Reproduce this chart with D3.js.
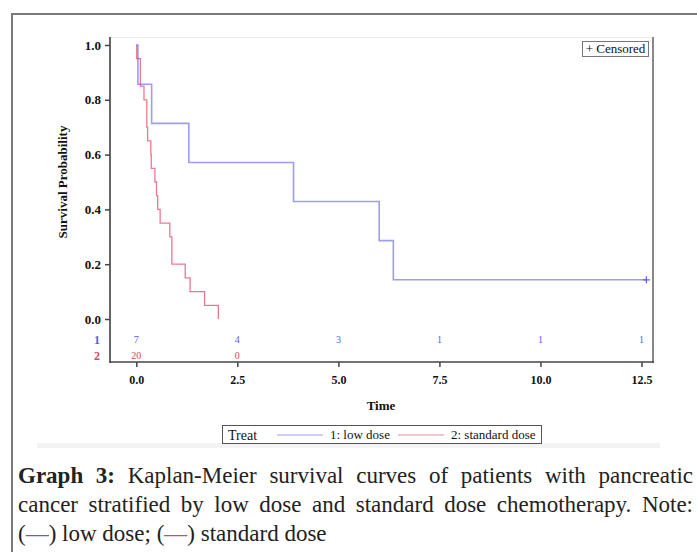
<!DOCTYPE html>
<html>
<head>
<meta charset="utf-8">
<script src="https://cdn.jsdelivr.net/npm/d3@7"></script>
<style>
  body { margin: 0; background: #fff; }
  svg { display: block; }
  svg text { font-family: "Liberation Serif", "DejaVu Serif", serif; }
</style>
</head>
<body>
<div id="vis"></div>
<script>
// data
var lowTimes = [0.04, 0.38, 1.30, 3.89, 6.01, 6.36];
var lowSurv = [0.857, 0.714, 0.571, 0.429, 0.286, 0.143];
var lowCensor = [12.62];
var stdTimes = [0.01, 0.10, 0.19, 0.26, 0.28, 0.36, 0.37, 0.46, 0.50, 0.53, 0.59, 0.83, 0.88, 1.21, 1.33, 1.69, 2.03];
var stdSurv = [0.95, 0.85, 0.80, 0.70, 0.65, 0.60, 0.55, 0.50, 0.45, 0.40, 0.35, 0.30, 0.20, 0.15, 0.10, 0.05, 0.0];
var riskTimes = [0, 2.5, 5.0, 7.5, 10.0, 12.5];
var lowRisk = [7, 4, 3, 1, 1, 1];
var stdRisk = [20, 0];
var yTicks = [0, 0.2, 0.4, 0.6, 0.8, 1.0];
var xTicks = [0, 2.5, 5.0, 7.5, 10.0, 12.5];
var groups = ["1: low dose", "2: standard dose"];
var captionLines = [
  "Graph 3: Kaplan-Meier survival curves of patients with pancreatic",
  "cancer stratified by low dose and standard dose chemotherapy. Note:",
  "(\u2014) low dose; (\u2014) standard dose"
];

var serif = "Liberation Serif";
var blue = "#5b5bf0", red = "#d8455f";
var width = 697, height = 552;

var svg = d3.select("#vis").append("svg")
    .attr("width", width)
    .attr("height", height)
    .attr("font-family", serif);

// outer frame
svg.append("path")
    .attr("d", "M697,14H12V552")
    .attr("fill", "none")
    .attr("stroke", "#7a7a7a")
    .attr("stroke-width", 2);

// light strip under the embedded figure
svg.append("rect")
    .attr("x", 37).attr("y", 443).attr("width", 623).attr("height", 5)
    .attr("fill", "#f3f3f3");

var plot = {left: 110, right: 653, top: 37, bottom: 362};

var x = d3.scaleLinear().domain([0, 12.5]).range([136.3, 641.5]);
var y = d3.scaleLinear().domain([0, 1]).range([319, 45]);

// plot frame
svg.append("line")
    .attr("x1", plot.left).attr("x2", plot.right)
    .attr("y1", plot.top + 0.5).attr("y2", plot.top + 0.5)
    .attr("stroke", "#ececec");
svg.append("line")
    .attr("x1", plot.right).attr("x2", plot.right)
    .attr("y1", plot.top).attr("y2", plot.bottom + 1)
    .attr("stroke", "#888").attr("stroke-width", 2);
svg.append("line")
    .attr("x1", plot.left).attr("x2", plot.left)
    .attr("y1", plot.top).attr("y2", plot.bottom + 1)
    .attr("stroke", "#333").attr("stroke-width", 1.5);
svg.append("line")
    .attr("x1", plot.left).attr("x2", plot.right + 1)
    .attr("y1", plot.bottom).attr("y2", plot.bottom)
    .attr("stroke", "#444").attr("stroke-width", 1.5);

// y axis
var yAxis = svg.append("g")
    .attr("transform", "translate(" + plot.left + ",0)")
    .call(d3.axisLeft(y).tickValues(yTicks).tickFormat(d3.format(".1f"))
      .tickSize(5).tickPadding(4).tickSizeOuter(0));
yAxis.attr("font-family", serif);
yAxis.select(".domain").remove();
yAxis.selectAll("line").attr("stroke", "#444").attr("stroke-width", 1.5);
yAxis.selectAll("text")
    .attr("font-weight", "bold")
    .attr("font-size", 13).attr("fill", "#111");

// x axis
var xAxis = svg.append("g")
    .attr("transform", "translate(0," + plot.bottom + ")")
    .call(d3.axisBottom(x).tickValues(xTicks).tickFormat(d3.format(".1f"))
      .tickSize(5).tickPadding(8).tickSizeOuter(0));
xAxis.attr("font-family", serif);
xAxis.select(".domain").remove();
xAxis.selectAll("line").attr("stroke", "#444").attr("stroke-width", 1.5);
xAxis.selectAll("text")
    .attr("font-weight", "bold")
    .attr("font-size", 12).attr("fill", "#111");

// axis titles
svg.append("text")
    .attr("transform", "translate(67,182) rotate(-90)")
    .attr("text-anchor", "middle")
    .attr("font-weight", "bold").attr("font-size", 13).attr("fill", "#111")
    .text("Survival Probability");
svg.append("text")
    .attr("x", 381).attr("y", 410)
    .attr("text-anchor", "middle")
    .attr("font-weight", "bold").attr("font-size", 13).attr("fill", "#111")
    .text("Time");

// step curves
var line = d3.line()
    .curve(d3.curveStepAfter)
    .x(function(d) { return x(d[0]); })
    .y(function(d) { return y(d[1]); });

var lowPts = [[0, 1]].concat(lowTimes.map(function(t, i) { return [t, lowSurv[i]]; }));
lowPts.push([lowCensor[0], lowSurv[lowSurv.length - 1]]);
var stdPts = [[0, 1]].concat(stdTimes.map(function(t, i) { return [t, stdSurv[i]]; }));

svg.append("path")
    .datum(stdPts)
    .attr("fill", "none")
    .attr("stroke", red).attr("stroke-opacity", 0.7)
    .attr("stroke-width", 1.3)
    .attr("d", line);
svg.append("path")
    .datum(lowPts)
    .attr("fill", "none")
    .attr("stroke", blue).attr("stroke-opacity", 0.6)
    .attr("stroke-width", 1.6)
    .attr("d", line);

// censored marks
lowCensor.forEach(function(t) {
  var cx = x(t), cy = y(lowSurv[lowSurv.length - 1]);
  svg.append("path")
      .attr("d", "M" + (cx - 3.5) + "," + cy + "H" + (cx + 3.5) + "M" + cx + "," + (cy - 3.5) + "V" + (cy + 3.5))
      .attr("stroke", blue).attr("stroke-width", 1.2);
});

// censored legend
svg.append("rect")
    .attr("x", 582.5).attr("y", 41.5).attr("width", 66).attr("height", 15)
    .attr("fill", "#fff").attr("stroke", "#777");
svg.append("text")
    .attr("x", 615.5).attr("y", 53)
    .attr("text-anchor", "middle")
    .attr("font-size", 13).attr("fill", "#111")
    .text("+ Censored");

// numbers at risk
svg.selectAll(".risk1").data(lowRisk).enter().append("text")
    .attr("x", function(d, i) { return x(riskTimes[i]); })
    .attr("y", 343)
    .attr("text-anchor", "middle")
    .attr("font-size", 10).attr("fill", blue)
    .text(function(d) { return d; });
svg.selectAll(".risk2").data(stdRisk).enter().append("text")
    .attr("x", function(d, i) { return x(riskTimes[i]); })
    .attr("y", 359)
    .attr("text-anchor", "middle")
    .attr("font-size", 10).attr("fill", red)
    .text(function(d) { return d; });
svg.append("text")
    .attr("x", 97).attr("y", 344).attr("text-anchor", "middle")
    .attr("font-size", 12).attr("font-weight", "bold").attr("fill", blue).text("1");
svg.append("text")
    .attr("x", 97).attr("y", 360).attr("text-anchor", "middle")
    .attr("font-size", 12).attr("font-weight", "bold").attr("fill", red).text("2");

// group legend
svg.append("rect")
    .attr("x", 222.5).attr("y", 425.5).attr("width", 319).attr("height", 18)
    .attr("fill", "#fff").attr("stroke", "#555");
svg.append("text")
    .attr("x", 228).attr("y", 440)
    .attr("font-size", 14).attr("fill", "#111")
    .text("Treat");
var legendX = [277, 398];
groups.forEach(function(g, i) {
  svg.append("line")
      .attr("x1", legendX[i]).attr("x2", legendX[i] + 46)
      .attr("y1", 435).attr("y2", 435)
      .attr("stroke", i === 0 ? blue : red).attr("stroke-opacity", 0.6)
      .attr("stroke-width", 1.2);
  svg.append("text")
      .attr("x", legendX[i] + 53).attr("y", 439)
      .attr("font-size", 13).attr("fill", "#111")
      .text(g);
});

// caption, justified like the page
var capSize = 23, capLeft = 18, capRight = 693;
var capBase = [483, 512, 541];
captionLines.forEach(function(ln, li) {
  var words = ln.split(" ");
  var t = svg.append("text")
      .attr("y", capBase[li])
      .attr("font-family", serif)
      .attr("font-size", capSize).attr("fill", "#222");
  var spans = words.map(function(w, wi) {
    return t.append("tspan")
        .attr("font-weight", (li === 0 && wi < 2) ? "bold" : "normal")
        .text(w);
  });
  var widths = spans.map(function(s) { return s.node().getComputedTextLength(); });
  var total = d3.sum(widths);
  var gap = capSize * 0.25;
  if (li < 2) gap = (capRight - capLeft - total) / (words.length - 1);
  var cx = capLeft;
  spans.forEach(function(s, i) {
    s.attr("x", cx);
    cx += widths[i] + gap;
  });
});
// colour the dashes in the note
svg.selectAll("tspan").filter(function() { return /\u2014/.test(this.textContent); })
    .each(function() {
      var s = d3.select(this), txt = s.text(), parts = txt.split("\u2014");
      var col = s.text().indexOf("(") === 0 && !this.previousSibling ? blue : red;
      s.text(null);
      s.append("tspan").text(parts[0]);
      s.append("tspan").attr("fill", col).text("\u2014");
      s.append("tspan").text(parts[1]);
    });
</script>
</body>
</html>
